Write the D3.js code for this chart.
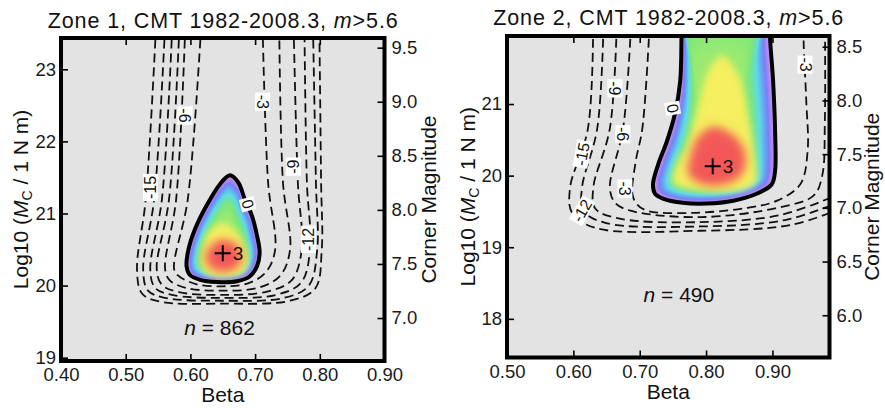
<!DOCTYPE html>
<html>
<head>
<meta charset="utf-8">
<script src="https://cdn.jsdelivr.net/npm/d3@7"></script>
<style>
  body { margin: 0; background: #fff; }
  svg { font-family: "Liberation Sans", Arial, Helvetica, sans-serif; }
</style>
</head>
<body>
<div id="vis"></div>
<script>
// ---- data (beta, log10 Mc) ----
const zone1BetaDomain = [0.4, 0.9];
const zone1LogDomain = [18.954, 23.434];
const zone1BetaTicks = [0.4, 0.5, 0.6, 0.7, 0.8, 0.9];
const zone1LogTicks = [19, 20, 21, 22, 23];
const zone1MagTicks = [7.0, 7.5, 8.0, 8.5, 9.0, 9.5];
const zone1Peak = [0.65, 20.45];
const zone1N = 862;
const zone1NAt = [0.645, 19.31];

// level 0 contour
const zone1Zero = [[0.661,21.53],[0.646,21.41],[0.625,21.11],[0.607,20.78],[0.597,20.50],[0.594,20.27],
  [0.599,20.15],[0.615,20.08],[0.641,20.05],[0.672,20.06],[0.692,20.13],[0.703,20.27],[0.707,20.46],
  [0.703,20.69],[0.695,20.97],[0.684,21.20],[0.674,21.43]];
// inner colour regions (yellow and red cores)
const zone1Yellow = [[0.650,20.86],[0.669,20.76],[0.684,20.56],[0.689,20.34],[0.682,20.18],[0.664,20.12],
  [0.638,20.12],[0.621,20.2],[0.616,20.38],[0.622,20.62],[0.633,20.79]];
const zone1Red = [[0.649,20.64],[0.668,20.59],[0.678,20.47],[0.678,20.31],[0.666,20.22],[0.646,20.19],
  [0.629,20.26],[0.623,20.40],[0.631,20.55]];

// dashed contours -3 ... -18
const zone1Levels = [-3, -6, -9, -12, -15, -18];
const zone1Lines = [
  [[0.618,23.8],[0.596,21.2],[0.575,20.22],[0.5824,20.13],[0.6087,20.02],[0.649,19.99],[0.689,20.03],[0.717,20.19],[0.731,20.5],[0.72,21.44],[0.711,23.8]],
  [[0.593,23.8],[0.578,21.2],[0.561,20.22],[0.5685,20.07],[0.5947,19.965],[0.649,19.93],[0.705,19.97],[0.739,20.14],[0.754,20.5],[0.743,21.44],[0.737,23.8]],
  [[0.584,23.8],[0.567,21.2],[0.548,20.22],[0.5561,20.01],[0.5824,19.91],[0.649,19.87],[0.72,19.92],[0.757,20.08],[0.772,20.5],[0.766,21.44],[0.759,23.8]],
  [[0.573,23.8],[0.556,21.2],[0.538,20.22],[0.5453,19.97],[0.5716,19.87],[0.649,19.83],[0.732,19.87],[0.771,20.04],[0.785,20.5],[0.78,21.44],[0.776,23.8]],
  [[0.562,23.8],[0.544,21.2],[0.527,20.22],[0.5345,19.93],[0.5607,19.83],[0.649,19.79],[0.745,19.83],[0.783,20.0],[0.796,20.5],[0.794,21.44],[0.789,23.8]],
  [[0.548,23.8],[0.531,21.2],[0.5175,20.22],[0.5252,19.89],[0.5515,19.78],[0.649,19.75],[0.754,19.79],[0.793,19.96],[0.803,20.5],[0.802,21.44],[0.799,23.8]]
];
const zone1Labels = [["-6",0.592,22.36],["-15",0.538,21.36],["-3",0.712,22.55],["-9",0.759,21.65],["-12",0.782,20.64],["0",0.689,21.13]];
const zone1LabelAngles = [90, -90, 90, -90, -90, 75];

const zone2BetaDomain = [0.5, 0.986];
const zone2LogDomain = [17.46, 21.95];
const zone2BetaTicks = [0.5, 0.6, 0.7, 0.8, 0.9];
const zone2LogTicks = [18, 19, 20, 21];
const zone2MagTicks = [6.0, 6.5, 7.0, 7.5, 8.0, 8.5];
const zone2Peak = [0.81, 20.13];
const zone2N = 490;
const zone2NAt = [0.759, 18.24];

const zone2Zero = [[0.764,23.2],[0.763,22.0],[0.761,21.32],[0.753,20.86],[0.741,20.48],[0.728,20.16],
  [0.72,19.88],[0.723,19.75],[0.735,19.68],[0.765,19.62],[0.801,19.61],[0.841,19.65],[0.877,19.75],
  [0.899,19.88],[0.904,20.07],[0.904,20.62],[0.901,21.32],[0.896,22.0],[0.895,23.2]];
const zone2Yellow = [[0.824,21.68],[0.844,21.48],[0.854,21.27],[0.863,20.85],[0.869,20.54],[0.874,20.19],
  [0.875,19.91],[0.854,19.80],[0.809,19.78],[0.765,19.84],[0.75,19.91],[0.758,20.19],[0.77,20.40],
  [0.78,20.68],[0.791,21.06],[0.803,21.45]];
const zone2Red = [[0.809,20.68],[0.836,20.60],[0.854,20.43],[0.860,20.19],[0.851,19.98],[0.824,19.87],
  [0.791,19.89],[0.773,20.03],[0.776,20.26],[0.788,20.54]];

const zone2Levels = [-3, -6, -9, -12, -15];
const zone2Lines = [
  [[0.716,22.3],[0.704,20.66],[0.694,20.2],[0.689,19.75],[0.695,19.61],[0.711,19.51],[0.781,19.48],[0.862,19.55],[0.907,19.65],[0.942,19.88],[0.953,20.34],[0.951,21.04],[0.947,21.87],[0.947,22.3]],
  [[0.688,22.3],[0.675,20.66],[0.655,19.83],[0.663,19.62],[0.686,19.51],[0.791,19.42],[0.907,19.55],[0.962,19.72],[0.975,20.0],[0.979,20.76],[0.979,22.3]],
  [[0.666,22.3],[0.655,20.66],[0.63,19.83],[0.633,19.54],[0.67,19.4],[0.791,19.35],[0.912,19.45],[0.995,19.72]],
  [[0.646,22.3],[0.636,20.66],[0.613,19.83],[0.615,19.51],[0.648,19.34],[0.791,19.29],[0.919,19.38],[0.995,19.61]],
  [[0.63,22.3],[0.622,20.66],[0.595,19.83],[0.598,19.48],[0.633,19.27],[0.791,19.23],[0.927,19.31],[0.995,19.51]]
];
const zone2Labels = [["-9",0.663,21.22],["-6",0.675,20.58],["-15",0.613,20.3],["-3",0.678,19.82],["-12",0.613,19.51],["-3",0.9495,21.55],["0",0.75,20.94]];
const zone2LabelAngles = [90, 90, -80, 90, -60, 90, 80];

// Mw = (log10 M - 9.05) / 1.5
const magOffset = 9.05;

// outer rainbow bands, 0 = peak, 1 = zero contour
const bandStops = [0, 0.5, 0.62, 0.7, 0.77, 0.84, 0.9, 0.96, 1];
const bandColors = ["#b4ee6c", "#98ea72", "#80e67a", "#6fe2a6", "#5edbe6", "#64aaf4", "#7a80f6", "#bb88f3", "#e39df2"];
const bandColor = d3.scaleLinear().domain(bandStops).range(bandColors);
const yellowColor = "#f6ef5e";
const redColor = "#f35959";

const svg = d3.select("#vis").append("svg").attr("width", 885).attr("height", 408);

const defs = svg.append("defs");
const blurY = defs.append("filter").attr("id", "blurY")
  .attr("x", "-50%").attr("y", "-50%").attr("width", "200%").attr("height", "200%");
blurY.append("feGaussianBlur").attr("stdDeviation", 3.5);
const blurR = defs.append("filter").attr("id", "blurR")
  .attr("x", "-50%").attr("y", "-50%").attr("width", "200%").attr("height", "200%");
blurR.append("feGaussianBlur").attr("stdDeviation", 5);

const panels = [
  { id: "z1", zone: 1, box: { l: 61, t: 38, r: 384.5, b: 361 },
    betaDomain: zone1BetaDomain, logDomain: zone1LogDomain, betaTicks: zone1BetaTicks,
    logTicks: zone1LogTicks, magTicks: zone1MagTicks, peak: zone1Peak, zero: zone1Zero,
    yellow: zone1Yellow, red: zone1Red,
    lines: zone1Lines, labels: zone1Labels, angles: zone1LabelAngles, n: zone1N, nAt: zone1NAt,
    titleY: 28, yLabX: 28, magLabX: 436 },
  { id: "z2", zone: 2, box: { l: 507, t: 36, r: 829.5, b: 357.5 },
    betaDomain: zone2BetaDomain, logDomain: zone2LogDomain, betaTicks: zone2BetaTicks,
    logTicks: zone2LogTicks, magTicks: zone2MagTicks, peak: zone2Peak, zero: zone2Zero,
    yellow: zone2Yellow, red: zone2Red,
    lines: zone2Lines, labels: zone2Labels, angles: zone2LabelAngles, n: zone2N, nAt: zone2NAt,
    titleY: 25, yLabX: 475, magLabX: 879 }
];

panels.forEach(drawPanel);

function drawPanel(p) {
  const b = p.box;
  const x = d3.scaleLinear().domain(p.betaDomain).range([b.l, b.r]);
  const y = d3.scaleLinear().domain(p.logDomain).range([b.b, b.t]);
  const ym = d3.scaleLinear()
    .domain(p.logDomain.map((v) => (v - magOffset) / 1.5))
    .range([b.b, b.t]);

  const g = svg.append("g");

  const closedLine = d3.line().x((d) => x(d[0])).y((d) => y(d[1])).curve(d3.curveCatmullRomClosed.alpha(0.5));
  const openLine = d3.line().x((d) => x(d[0])).y((d) => y(d[1])).curve(d3.curveCatmullRom.alpha(0.5));
  const zeroPath = closedLine(p.zero);

  defs.append("clipPath").attr("id", "clip-" + p.id)
    .append("rect").attr("x", b.l).attr("y", b.t)
    .attr("width", b.r - b.l).attr("height", b.b - b.t);
  defs.append("clipPath").attr("id", "zero-" + p.id)
    .append("path").attr("d", zeroPath);

  g.append("rect").attr("x", b.l).attr("y", b.t)
    .attr("width", b.r - b.l).attr("height", b.b - b.t)
    .attr("fill", "#e3e3e3");

  const plot = g.append("g").attr("clip-path", `url(#clip-${p.id})`);
  const cx = x(p.peak[0]), cy = y(p.peak[1]);

  // coloured region above level 0: outer bands as shrinking copies toward the peak
  const fill = plot.append("g").attr("clip-path", `url(#zero-${p.id})`);
  const layers = d3.range(70).map((i) => 1 - i / 70);
  fill.append("g").selectAll("path").data(layers).join("path")
    .attr("d", zeroPath)
    .attr("transform", (s) => `translate(${cx},${cy}) scale(${s}) translate(${-cx},${-cy})`)
    .attr("fill", (s) => bandColor(s));
  // soft yellow and red cores
  fill.append("path").attr("d", closedLine(p.yellow))
    .attr("fill", yellowColor).attr("filter", "url(#blurY)");
  fill.append("path").attr("d", closedLine(p.red))
    .attr("fill", redColor).attr("filter", "url(#blurR)");

  // dashed contours
  plot.append("g").selectAll("path").data(p.lines).join("path")
    .attr("d", openLine)
    .attr("fill", "none")
    .attr("stroke", "#111")
    .attr("stroke-width", 1.8)
    .attr("stroke-dasharray", "9,5");

  // 0 contour
  plot.append("path").attr("d", zeroPath)
    .attr("fill", "none").attr("stroke", "#000").attr("stroke-width", 4);

  // contour labels
  const lab = plot.append("g").selectAll("g").data(p.labels).join("g")
    .attr("transform", (d, i) => `translate(${x(d[1])},${y(d[2])}) rotate(${p.angles[i]})`);
  lab.append("text").text((d) => d[0])
    .attr("text-anchor", "middle").attr("dy", "0.36em")
    .attr("font-size", 16).attr("fill", "#111");
  lab.each(function () {
    const bb = d3.select(this).select("text").node().getBBox();
    d3.select(this).insert("rect", "text")
      .attr("x", bb.x - 2).attr("y", bb.y + 1)
      .attr("width", bb.width + 4).attr("height", bb.height - 2)
      .attr("fill", "#fff");
  });

  // peak marker
  g.append("path")
    .attr("d", `M${cx - 8},${cy}H${cx + 8}M${cx},${cy - 8}V${cy + 8}`)
    .attr("stroke", "#000").attr("stroke-width", 2);
  g.append("text").attr("x", cx + 10).attr("y", cy + 7)
    .attr("font-size", 19).attr("fill", "#111").text("3");

  // n = ...
  const nt = g.append("text").attr("x", x(p.nAt[0])).attr("y", y(p.nAt[1]))
    .attr("text-anchor", "middle").attr("font-size", 21).attr("fill", "#111");
  nt.append("tspan").attr("font-style", "italic").text("n");
  nt.append("tspan").text(" = " + p.n);

  // axes, ticks pointing inward
  const styleAxis = (sel) => {
    sel.select(".domain").remove();
    sel.selectAll(".tick line").attr("stroke", "#000").attr("stroke-width", 1.6);
    sel.selectAll(".tick text").attr("font-size", 18.5).attr("fill", "#1a1a1a")
      .attr("font-family", "Liberation Sans, Arial, sans-serif");
  };
  g.append("g").attr("transform", `translate(0,${b.b})`)
    .call(d3.axisBottom(x).tickValues(p.betaTicks).tickFormat(d3.format(".2f")).tickSize(-7).tickPadding(7))
    .call(styleAxis);
  g.append("g").attr("transform", `translate(0,${b.t})`)
    .call(d3.axisTop(x).tickValues(p.betaTicks).tickFormat("").tickSize(-7))
    .call(styleAxis);
  g.append("g").attr("transform", `translate(${b.l},0)`)
    .call(d3.axisLeft(y).tickValues(p.logTicks).tickFormat(d3.format("d")).tickSize(-7).tickPadding(5))
    .call(styleAxis);
  g.append("g").attr("transform", `translate(${b.r},0)`)
    .call(d3.axisRight(ym).tickValues(p.magTicks).tickFormat(d3.format(".1f")).tickSize(-7).tickPadding(7))
    .call(styleAxis);

  // frame
  g.append("rect").attr("x", b.l).attr("y", b.t)
    .attr("width", b.r - b.l).attr("height", b.b - b.t)
    .attr("fill", "none").attr("stroke", "#000").attr("stroke-width", 4);

  // title
  const midX = (b.l + b.r) / 2;
  const title = g.append("text").attr("x", midX).attr("y", p.titleY)
    .attr("text-anchor", "middle").attr("font-size", 21.5).attr("fill", "#111")
    .attr("textLength", 350).attr("lengthAdjust", "spacing");
  title.append("tspan").text(`Zone ${p.zone}, CMT 1982-2008.3, `);
  title.append("tspan").attr("font-style", "italic").text("m");
  title.append("tspan").text(">5.6");

  // axis titles
  g.append("text").attr("x", midX).attr("y", b.b + 41)
    .attr("text-anchor", "middle").attr("font-size", 21).attr("fill", "#111").text("Beta");

  const midY = (b.t + b.b) / 2;
  const yl = g.append("text")
    .attr("transform", `translate(${p.yLabX},${midY}) rotate(-90)`)
    .attr("text-anchor", "middle").attr("font-size", 21).attr("fill", "#111");
  yl.append("tspan").text("Log10 (");
  yl.append("tspan").attr("font-style", "italic").text("M");
  yl.append("tspan").attr("font-size", 14).attr("dy", 4).text("C");
  yl.append("tspan").attr("dy", -4).text(" / 1 N m)");

  g.append("text")
    .attr("transform", `translate(${p.magLabX},${midY}) rotate(-90)`)
    .attr("text-anchor", "middle").attr("font-size", 21).attr("fill", "#111")
    .text("Corner Magnitude");
}
</script>
</body>
</html>
